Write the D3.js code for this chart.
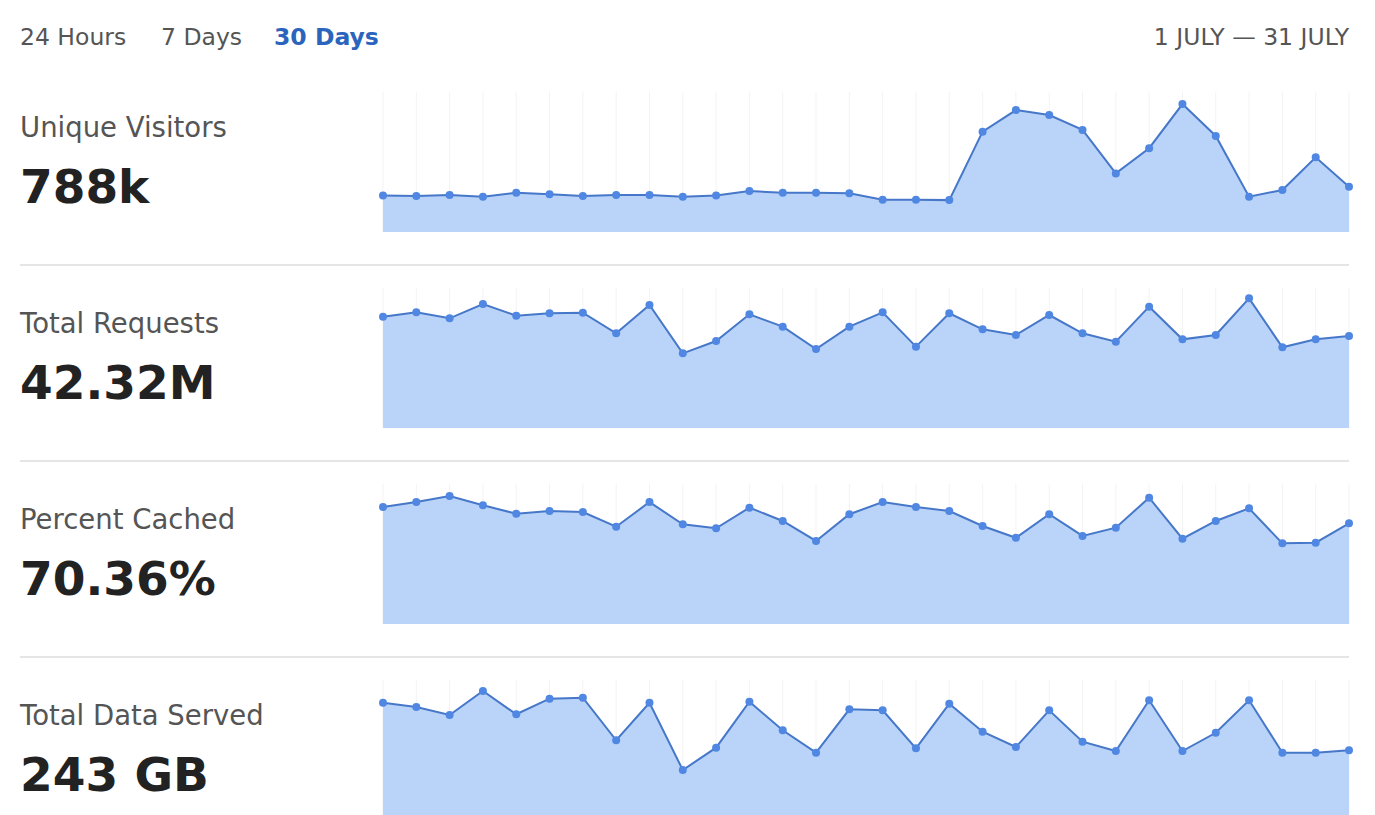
<!DOCTYPE html>
<html>
<head>
<meta charset="utf-8">
<script src="https://cdn.jsdelivr.net/npm/d3@7"></script>
<style>
  html, body { margin: 0; padding: 0; background: #ffffff; }
  svg { display: block; font-family: "DejaVu Sans", sans-serif; }
</style>
</head>
<body>
<svg id="chart" width="1375" height="815"></svg>
<script>
// ---- Data ----
const rangeTabs = ["24 Hours", "7 Days", "30 Days"];
const activeTab = "30 Days";
const dateRangeLabel = "1 JULY \u2014 31 JULY";
const days = [1,2,3,4,5,6,7,8,9,10,11,12,13,14,15,16,17,18,19,20,21,22,23,24,25,26,27,28,29,30];

const metricTitles = ["Unique Visitors", "Total Requests", "Percent Cached", "Total Data Served"];
const metricTotals = ["788k", "42.32M", "70.36%", "243 GB"];
const metricMax = [65, 2.1, 100, 12.5];

// Unique visitors per day (thousands)
const uniqueVisitors = [16.9,16.7,17.2,16.4,18.2,17.5,16.7,17.2,17.2,16.4,16.9,19.0,18.2,18.2,18.0,15.0,15.0,14.8,46.6,56.6,54.3,47.4,27.2,38.9,59.4,44.6,16.4,19.5,34.7,21.0];
// Total requests per day (millions)
const totalRequests = [1.67,1.735,1.645,1.86,1.685,1.72,1.73,1.42,1.845,1.12,1.305,1.705,1.52,1.185,1.52,1.735,1.22,1.72,1.48,1.395,1.695,1.42,1.295,1.82,1.33,1.395,1.945,1.21,1.33,1.38];
// Percent cached per day (%)
const percentCached = [83.6,87.1,91.4,84.8,78.8,80.7,80.0,69.5,87.1,71.2,68.4,83.1,73.6,59.3,78.4,87.1,83.6,80.7,70.0,61.6,78.4,62.9,68.8,90.2,60.9,73.6,82.6,57.6,58.1,71.9];
// Data served per day (GB)
const dataServed = [10.47,10.09,9.38,11.52,9.44,10.83,10.92,7.12,10.47,4.46,6.46,10.56,8.01,6.01,9.88,9.79,6.40,10.38,7.88,6.52,9.79,6.99,6.16,10.69,6.16,7.79,10.69,6.01,6.01,6.22];

const metricSeries = [uniqueVisitors, totalRequests, percentCached, dataServed];

// ---- Drawing ----
const svg = d3.select("#chart");
const leftX = 20, rightX = 1349;
const chartX0 = 383, chartX1 = 1349;
const rowStep = 196;
const firstChartBottom = 232;
const chartHeight = 140;

// header tabs
const tabX = [20, 161, 274];
svg.selectAll("text.tab")
  .data(rangeTabs)
  .join("text")
  .attr("class", "tab")
  .attr("x", (d, i) => tabX[i])
  .attr("y", 45)
  .attr("font-size", 23.5)
  .attr("font-weight", d => d === activeTab ? "bold" : "normal")
  .attr("fill", d => d === activeTab ? "#2a64bd" : "#555555")
  .text(d => d);

svg.append("text")
  .attr("x", rightX)
  .attr("y", 45)
  .attr("text-anchor", "end")
  .attr("font-size", 23.5)
  .attr("fill", "#555555")
  .text(dateRangeLabel);

const x = d3.scaleLinear().domain([days[0], days[days.length - 1]]).range([chartX0, chartX1]);

metricSeries.forEach((series, r) => {
  const bottom = firstChartBottom + r * rowStep;
  const top = bottom - chartHeight;
  const y = d3.scaleLinear().domain([0, metricMax[r]]).range([bottom, top]);
  const g = svg.append("g");

  // separator
  if (r > 0) {
    g.append("line")
      .attr("x1", leftX).attr("x2", rightX)
      .attr("y1", top - 23).attr("y2", top - 23)
      .attr("stroke", "#dddddd").attr("stroke-width", 1.5);
  }

  // title & total
  g.append("text")
    .attr("x", leftX).attr("y", 137 + r * rowStep)
    .attr("font-size", 27.5).attr("fill", "#555555")
    .text(metricTitles[r]);
  g.append("text")
    .attr("x", leftX).attr("y", 203 + r * rowStep)
    .attr("font-size", 47).attr("font-weight", "bold").attr("fill", "#222222")
    .text(metricTotals[r]);

  // faint vertical gridlines
  g.selectAll("line.grid")
    .data(days)
    .join("line")
    .attr("class", "grid")
    .attr("x1", d => x(d)).attr("x2", d => x(d))
    .attr("y1", top).attr("y2", bottom)
    .attr("stroke", "#f3f3f3").attr("stroke-width", 1);

  const pts = days.map((d, i) => [d, series[i]]);

  const area = d3.area()
    .x(p => x(p[0]))
    .y0(bottom)
    .y1(p => y(p[1]));
  g.append("path")
    .datum(pts)
    .attr("d", area)
    .attr("fill", "#b9d4f8");

  const line = d3.line()
    .x(p => x(p[0]))
    .y(p => y(p[1]));
  g.append("path")
    .datum(pts)
    .attr("d", line)
    .attr("fill", "none")
    .attr("stroke", "#4677c9")
    .attr("stroke-width", 2);

  g.selectAll("circle")
    .data(pts)
    .join("circle")
    .attr("cx", p => x(p[0]))
    .attr("cy", p => y(p[1]))
    .attr("r", 4)
    .attr("fill", "#4f87e2");
});
</script>
</body>
</html>
